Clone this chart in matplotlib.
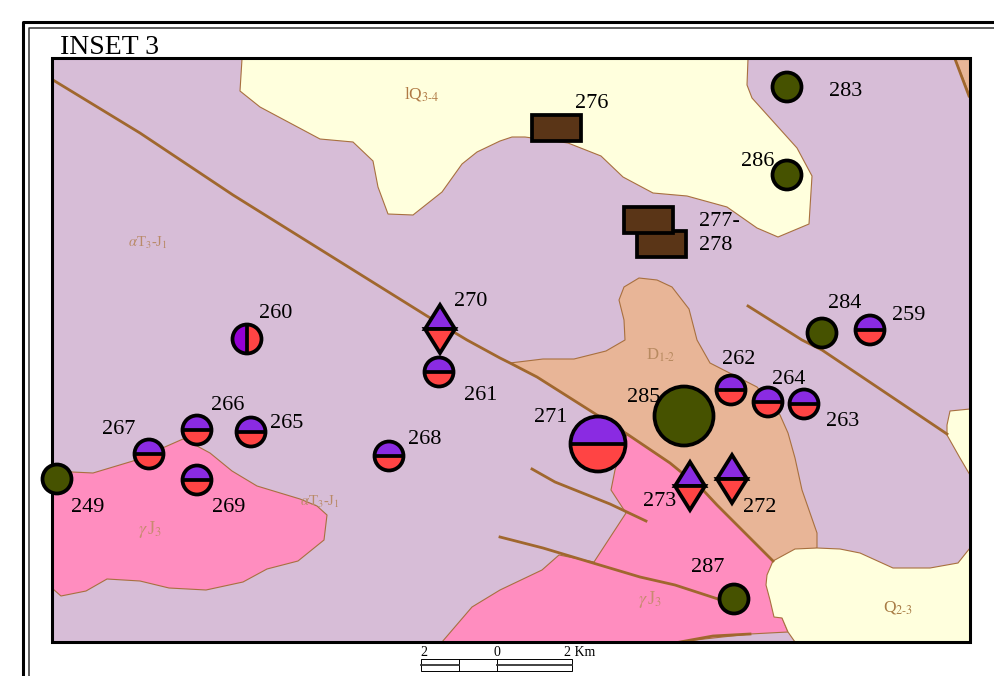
import matplotlib
matplotlib.use("Agg")
import matplotlib.pyplot as plt
from matplotlib.patches import Polygon, Circle, Wedge, Rectangle

plt.rcParams["font.family"] = ["Liberation Serif", "DejaVu Serif"]
plt.rcParams["mathtext.fontset"] = "stix"

# everything is in map units (y goes down)
map_box = (52, 58, 970, 642)

# geology units
lq_unit = [(242, 59), (240, 91), (260, 107), (320, 139), (353, 142), (373, 161), (378, 187),
           (388, 214), (413, 215), (442, 192), (462, 164), (477, 152), (500, 141), (512, 137),
           (525, 137), (568, 143), (601, 156), (623, 177), (653, 193), (687, 196), (727, 207),
           (757, 228), (778, 237), (809, 224), (812, 176), (797, 148), (752, 98), (747, 85),
           (748, 59)]
q_unit = [(773, 561), (795, 549), (817, 548), (840, 549), (860, 553), (893, 568), (930, 568),
          (958, 563), (970, 548), (970, 642), (795, 642), (788, 632), (782, 618), (774, 617),
          (770, 600), (766, 585), (767, 575)]
q_east = [(970, 409), (950, 411), (947, 425), (947, 435), (960, 458), (970, 475)]
d_unit = [(639, 278), (657, 280), (672, 287), (689, 309), (697, 340), (710, 363), (757, 387),
          (780, 415), (788, 433), (795, 458), (802, 490), (817, 533), (817, 548), (773, 561),
          (747, 535), (717, 505), (703, 490), (670, 463), (627, 434), (597, 415), (537, 377),
          (510, 363), (543, 359), (574, 359), (606, 351), (625, 340), (624, 320), (619, 300),
          (624, 287)]
d_corner = [(955, 59), (970, 59), (970, 97)]
gamma_west = [(53, 460), (53, 470), (72, 472), (93, 473), (133, 461), (183, 439), (197, 446),
              (210, 453), (232, 471), (257, 486), (300, 499), (317, 506), (327, 515), (324, 540),
              (298, 561), (267, 569), (243, 582), (206, 590), (169, 588), (140, 581), (107, 579),
              (86, 591), (61, 596), (53, 589)]
gamma_south = [(442, 642), (472, 607), (500, 590), (542, 570), (559, 555), (594, 562), (626, 513),
               (611, 490), (615, 470), (627, 434), (670, 463), (703, 490), (717, 505), (747, 535),
               (773, 561), (767, 580), (788, 632), (750, 634), (677, 642)]

# faults
fault_main = [(53, 80), (140, 133), (233, 195), (427, 316), (467, 340), (500, 358), (510, 363),
              (537, 377), (597, 415), (627, 434), (670, 463), (703, 490), (717, 505), (747, 535),
              (773, 561)]
fault_east = [(748, 306), (802, 340), (822, 350), (947, 434)]
fault_mid = [(532, 469), (555, 482), (610, 504), (646, 521)]
fault_south = [(500, 537), (543, 548), (593, 563), (640, 577), (675, 585), (718, 599)]
fault_bottom = [(680, 642), (713, 636), (750, 634)]
fault_corner = [(955, 59), (969, 96)]

# deposit symbols
green_x = [787, 787, 822, 57, 684, 734]
green_y = [87, 175, 333, 479, 416, 599]
green_r = [14.5, 14.5, 14.5, 14.5, 29.5, 14.5]

half_x = [870, 439, 731, 768, 804, 251, 197, 149, 389, 197, 598]
half_y = [330, 372, 390, 402, 404, 432, 430, 454, 456, 480, 444]
half_r = [14.5, 14.5, 14.5, 14.5, 14.5, 14.5, 14.5, 14.5, 14.5, 14.5, 27.5]

split_x = [247]
split_y = [339]

diamond_x = [440, 732, 690]
diamond_y = [329, 479, 486]

mine_x = [637, 624, 532]
mine_y = [231, 207, 115]

# labels
site_labels = ["283", "276", "286", "277-", "278", "284", "259", "260", "270", "261", "262",
               "264", "263", "285", "271", "273", "272", "287", "266", "265", "267", "268",
               "269", "249"]
site_x = [846, 592, 758, 719, 716, 845, 909, 276, 471, 481, 739, 789, 843, 644, 551, 660, 760,
          708, 228, 287, 119, 425, 229, 88]
site_y = [90, 102, 160, 220, 244, 301, 313, 312, 300, 393, 358, 378, 420, 395, 416, 499, 505,
          566, 404, 421, 428, 438, 505, 506]

unit_labels = [r"lQ$_{3\text{-}4}$", r"$\alpha$T$_{3}$-J$_{1}$", r"$\alpha$T$_{3}$-J$_{1}$",
               r"$\gamma\,$J$_{3}$", r"$\gamma\,$J$_{3}$", r"D$_{1\text{-}2}$", r"Q$_{2\text{-}3}$"]
unit_x = [422, 148, 320, 150, 650, 661, 898]
unit_y = [94, 243, 502, 530, 600, 355, 608]
unit_colors = ["#B07A45", "#B98A68", "#B98A68", "#C88A70", "#C88A70", "#B88A60", "#A87C45"]
unit_sizes = [12.5, 10.5, 10.5, 13, 13, 12, 12.5]

scale_labels = ["2", "0", "2 Km"]
scale_x = [424, 497, 580]

LILAC = "#D7BDD7"
YELLOW = "#FFFFDD"
PINK = "#FF8DBF"
PEACH = "#E8B597"
FAULT = "#A0672E"
EDGE = "#A8703F"
GREEN = "#465200"
BROWN = "#5A3517"
PURPLE = "#8A2BE2"
RED = "#FF4444"
SYMBOL_LW = 2.7


def draw_half_circle(ax, x, y, r):
    ax.add_patch(Wedge((x, y), r, 180, 360, fc=PURPLE, ec="none", zorder=6))
    ax.add_patch(Wedge((x, y), r, 0, 180, fc=RED, ec="none", zorder=6))
    ax.plot([x - r, x + r], [y, y], color="black", lw=SYMBOL_LW, zorder=7, solid_capstyle="butt")
    ax.add_patch(Circle((x, y), r, fc="none", ec="black", lw=SYMBOL_LW, zorder=7))


def draw_split_circle(ax, x, y, r):
    ax.add_patch(Wedge((x, y), r, 90, 270, fc="#9400D3", ec="none", zorder=6))
    ax.add_patch(Wedge((x, y), r, -90, 90, fc=RED, ec="none", zorder=6))
    ax.plot([x, x], [y - r, y + r], color="black", lw=SYMBOL_LW, zorder=7, solid_capstyle="butt")
    ax.add_patch(Circle((x, y), r, fc="none", ec="black", lw=SYMBOL_LW, zorder=7))


def draw_diamond(ax, x, y, w=15, h=24):
    ax.add_patch(Polygon([(x - w, y), (x, y - h), (x + w, y)], fc=PURPLE, ec="black",
                         lw=SYMBOL_LW, zorder=6))
    ax.add_patch(Polygon([(x - w, y), (x, y + h), (x + w, y)], fc=RED, ec="black",
                         lw=SYMBOL_LW, zorder=6))


def main():
    fig = plt.figure(figsize=(9.94, 6.76), dpi=100)
    ax = fig.add_axes([0, 0, 1, 1])
    ax.set_xlim(0, 994)
    ax.set_ylim(676, 0)
    ax.set_aspect("equal")
    ax.axis("off")

    # double sheet border, runs off the right and bottom of the page
    ax.plot([23, 23, 994], [676, 22, 22], color="black", lw=2.2)
    ax.plot([29, 29, 994], [676, 28, 28], color="#333333", lw=1.1)

    x0, y0, x1, y1 = map_box
    ax.add_patch(Rectangle((x0, y0), x1 - x0, y1 - y0, fc=LILAC, ec="none", zorder=1))

    for verts, color in [(gamma_west, PINK), (gamma_south, PINK), (d_unit, PEACH), (d_corner, PEACH),
                         (lq_unit, YELLOW), (q_unit, YELLOW), (q_east, YELLOW)]:
        ax.add_patch(Polygon(verts, fc=color, ec=EDGE, lw=0.8, zorder=2))

    for line in [fault_main, fault_east, fault_mid, fault_south, fault_bottom, fault_corner]:
        xs = [p[0] for p in line]
        ys = [p[1] for p in line]
        ax.plot(xs, ys, color=FAULT, lw=2.0, zorder=3)

    # map frame goes over the units, symbols go over the frame
    ax.add_patch(Rectangle((x0, y0), x1 - x0, y1 - y0, fc="none", ec="black", lw=2.2, zorder=4))

    for x, y, r in zip(green_x, green_y, green_r):
        ax.add_patch(Circle((x, y), r, fc=GREEN, ec="black", lw=SYMBOL_LW, zorder=6))
    for x, y, r in zip(half_x, half_y, half_r):
        draw_half_circle(ax, x, y, r)
    for x, y in zip(split_x, split_y):
        draw_split_circle(ax, x, y, 14.5)
    for x, y in zip(diamond_x, diamond_y):
        draw_diamond(ax, x, y)
    for x, y in zip(mine_x, mine_y):
        ax.add_patch(Rectangle((x, y), 49, 26, fc=BROWN, ec="black", lw=SYMBOL_LW, zorder=6))

    for label, x, y in zip(site_labels, site_x, site_y):
        ax.text(x, y + 2, label, fontsize=16, color="black", ha="center", va="center", zorder=8)
    for label, x, y, c, s in zip(unit_labels, unit_x, unit_y, unit_colors, unit_sizes):
        ax.text(x, y, label, fontsize=s, color=c, ha="center", va="center", zorder=5)

    ax.text(60, 47, "INSET 3", fontsize=20, color="black", ha="left", va="center")

    # scale bar
    ax.add_patch(Rectangle((421, 659), 151, 12, fc="white", ec="black", lw=0.7))
    ax.plot([459, 459], [659, 671], color="black", lw=0.7)
    ax.plot([497, 497], [659, 671], color="black", lw=0.7)
    ax.plot([421, 459], [664.5, 664.5], color="#333333", lw=1.3)
    ax.plot([497, 572], [664.5, 664.5], color="#333333", lw=1.3)
    for label, x in zip(scale_labels, scale_x):
        ax.text(x, 653, label, fontsize=10, color="black", ha="center", va="center")

    fig.savefig("out.png", dpi=100)
    plt.close(fig)


if __name__ == "__main__":
    main()
